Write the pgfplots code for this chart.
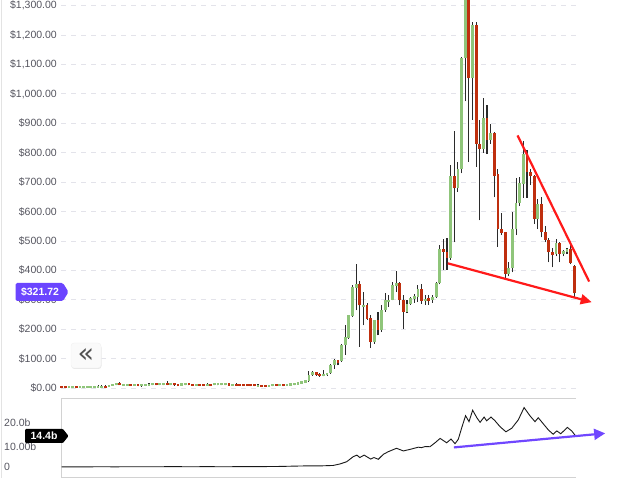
\documentclass[border=0pt]{standalone}
\usepackage{fontspec}
\setmainfont{Liberation Sans}
\newfontfamily\dejavu{DejaVu Sans}
\usepackage{pgfplots}
\usepackage{pgfplotstable}
\pgfplotsset{compat=1.18}
\usetikzlibrary{arrows.meta}
\definecolor{upc}{HTML}{8FC57A}
\definecolor{dnc}{HTML}{BF2F0E}
\definecolor{wick}{HTML}{2B2B2B}
\definecolor{gridc}{HTML}{E3E3EA}
\definecolor{labc}{HTML}{55555F}
\definecolor{tagp}{HTML}{6B45FF}
\definecolor{arrp}{HTML}{7047FF}
\definecolor{redl}{HTML}{FF1A1A}

\pgfplotstableread{
i o h l c
0 6.5 7 0 0.3
1 6.5 7 0 0.3
2 0.3 7 0 6.5
3 0.3 7 0 6.5
4 6.5 7 0 0.3
5 0.3 7 0 6.5
6 0.4 7.3 0 6.8
7 0.5 7.5 0 7
8 0.5 8 0 7.5
9 0.8 8.3 0.3 7.8
10 1 11 0.5 8
11 1 12 0.5 8
12 8.5 9 1 1.5
13 4.5 12 4 11.5
14 7.5 15 7 14.5
15 9.5 17 9 16.5
16 16.5 19 9 9.5
17 7.5 15 7 14.5
18 7.5 15 7 14.5
19 14.5 15 7 7.5
20 7.5 15 7 14.5
21 13.5 14 6 6.5
22 5.5 13 5 12.5
23 7 14.5 6.5 14
24 8 15.5 7.5 15
25 9.5 17 9 16.5
26 16.5 17 9 9.5
27 9.5 17 9 16.5
28 10 17.5 9.5 17
29 17 25 9.5 10
30 10 17.5 9.5 17
31 16 16.5 8.5 9
32 14 14.5 6.5 7
33 8.5 16 8 15.5
34 10 17.5 9.5 17
35 16.5 18 9 9.5
36 14 14.5 6.5 7
37 7.5 15 7 14.5
38 14 14.5 6.5 7
39 14 14.5 6.5 7
40 7.5 16 7 14.5
41 14 14.5 6.5 7
42 9.5 17 9 16.5
43 9.5 17 9 16.5
44 9.5 17 9 16.5
45 9.5 17 9 16.5
46 15.5 17 8 8.5
47 7.5 15 7 14.5
48 14.5 16 7 7.5
49 14 14.5 6.5 7
50 14 14.5 6.5 7
51 14 14.5 6.5 7
52 13.5 14 6 6.5
53 13.5 14 6 6.5
54 4.5 13 4 11.5
55 11 11.5 3.5 4
56 11 11.5 3.5 4
57 4.5 12 4 11.5
58 6.5 14 6 13.5
59 14 14.5 6.5 7
60 7 14.5 6.5 14
61 13.5 14 6 6.5
62 7.5 15 7 14.5
63 8.5 16 8 15.5
64 10 17.5 9.5 17
65 12 19.5 11.5 19
66 15 23.5 14.5 23
67 17 26.5 16.5 26
68 24 57 22 45
69 44 57 42 53
70 53 55 42 44
71 49 51 39 41
72 41 63 40 49
73 43 52 42 50
74 51 82 48 80
75 80 100 66 94
76 94 96 77 85
77 92 150 88 148
78 148 216 114 175
79 171 250 168 247
80 245 351 243 343
81 340 420 264 352
82 352 365 141 281
83 275 325 213 284
84 284 288 233 236
85 239 247 136 156
86 156 232 150 230
87 230 258 179 198
88 196 281 190 266
89 264 323 259 298
90 291 315 275 300
91 300 360 298 349
92 347 397 326 357
93 357 360 281 298
94 300 315 202 258
95 258 298 255 287
96 287 310 283 307
97 304 320 290 312
98 309 351 292 338
99 338 355 287 296
100 296 317 283 304
101 305 315 283 296
102 300 317 290 309
103 308 360 306 356
104 357 487 352 472
105 472 506 402 464
106 464 511 402 442
107 442 759 435 721
108 721 874 495 679
109 679 768 668 744
110 744 1125 730 1121
111 1121 1340 974 1330
112 1330 1340 770 1053
113 1053 1243 912 1234
114 1234 1243 753 830
115 830 912 570 813
116 813 985 800 917
117 917 962 795 844
118 844 898 830 866
119 866 870 648 722
120 727 746 480 540
121 540 595 520 527
122 529 532 370 387
123 387 430 380 407
124 407 597 393 540
125 540 715 520 630
126 630 719 620 698
127 693 840 647 797
128 797 810 647 735
129 735 745 690 721
130 721 725 557 574
131 574 642 540 625
132 625 648 512 529
133 529 550 495 504
134 504 510 427 461
135 463 475 410 453
136 455 505 448 492
137 492 497 427 455
138 455 470 448 466
139 463 476 455 472
140 472 491 420 425
141 415 418 308 322
}\candles

\pgfplotstableread{
x v
0 0.05
5 0.05
10 0.1
15 0.08
20 0.12
25 0.1
30 0.15
35 0.12
40 0.14
45 0.12
50 0.15
55 0.18
60 0.25
65.6 0.45
67.4 0.5
71.1 0.5
74.7 0.7
76.6 1.4
78.4 2.4
80.2 4.7
81.2 5.4
82.0 4.3
83.2 5.4
83.9 4.7
85.0 3.6
85.9 4.3
87.1 3.5
88.5 5.8
89.9 7.0
92.1 8.5
94.0 7.3
95.8 8.0
98.1 9.0
99.0 8.8
100.0 9.3
101.3 9.2
102.7 11.0
104.1 13.0
105.9 11.0
107.1 12.7
108.2 10.6
109.1 12.6
110.0 17.6
111.1 23.3
112.05 20.6
113.05 25.8
114.2 22.4
115.1 20.3
116.2 22.7
116.9 21.0
118.1 22.7
119.2 21.0
120.6 18.3
122.2 16.0
123.8 17.6
125.6 21.4
127.2 27.0
128.8 23.3
130.2 20.6
131.1 22.4
132.4 19.8
133.9 16.8
135.2 14.9
136.2 16.4
137.3 15.1
139.1 18.0
140.3 16.4
141.2 14.5
}\vol

\begin{document}
\begin{tikzpicture}
\path[use as bounding box] (0pt,0pt) rectangle (627pt,-478pt);
\draw[gray!22, line width=0.8pt] (1pt,0pt) -- (1pt,-478pt);

\begin{axis}[
  at={(61pt,-396pt)}, anchor=south west, scale only axis,
  width=514.7pt, height=396pt,
  xmin=-0.2, xmax=141.4, ymin=-27, ymax=1319,
  axis line style={draw=none}, xtick=\empty,
  ytick={0,100,...,1300},
  yticklabels={{\$0.00},{\$100.00},{\$200.00},{\$300.00},{\$400.00},{\$500.00},{\$600.00},{\$700.00},{\$800.00},{\$900.00},{\$1,000.00},{\$1,100.00},{\$1,200.00},{\$1,300.00}},
  major tick length=0pt,
  ymajorgrids, grid style={gridc, line width=0.9pt, dash pattern=on 5pt off 5pt},
  yticklabel style={font=\fontsize{10.5}{12}\selectfont, text=labc, anchor=east, inner sep=0pt, xshift=-4pt},
  clip=false,
]
\addplot[draw=none, forget plot, error bars/.cd, y dir=plus, y explicit, error mark=none,
  error bar style={draw=wick, line width=1.1pt}]
  table[x=i, y=l, y error plus expr=\thisrow{h}-\thisrow{l}] {\candles};
\addplot[draw=none, forget plot, x filter/.expression={\thisrow{c}>=\thisrow{o} ? x : nan},
  error bars/.cd, y dir=plus, y explicit, error mark=none,
  error bar style={draw=upc, line width=2.8pt}]
  table[x=i, y=o, y error plus expr=\thisrow{c}-\thisrow{o}] {\candles};
\addplot[draw=none, forget plot, x filter/.expression={\thisrow{c}<\thisrow{o} ? x : nan},
  error bars/.cd, y dir=plus, y explicit, error mark=none,
  error bar style={draw=dnc, line width=2.8pt}]
  table[x=i, y=c, y error plus expr=\thisrow{o}-\thisrow{c}] {\candles};
\draw[redl, line width=2.2pt] (axis cs:125.4,858.8) -- (axis cs:145.1,362);
\draw[redl, line width=2.2pt, -{Triangle[length=11pt,width=10pt]}] (axis cs:106.2,424) -- (axis cs:145.8,292);
\end{axis}

\begin{axis}[
  at={(61pt,-477pt)}, anchor=south west, scale only axis,
  width=514.7pt, height=79pt,
  xmin=-0.2, xmax=141.4, ymin=-4.55, ymax=31.36,
  axis line style={draw=none}, xtick=\empty,
  ytick={0,9.3,20}, yticklabels={0,10.00b,20.0b},
  major tick length=0pt,
  yticklabel style={font=\fontsize{10.5}{12}\selectfont, text=labc, anchor=west, inner sep=0pt, xshift=-57pt},
  clip=false,
]
\draw[gray!35, line width=0.8pt] (rel axis cs:1,1) -- (rel axis cs:0,1) -- (rel axis cs:0,0) -- (rel axis cs:1,0);
\addplot[black!90, line width=0.9pt] table[x=x, y=v] {\vol};
\draw[arrp, line width=2.2pt, -{Triangle[length=11pt,width=11pt]}] (axis cs:107.9,8.9) -- (axis cs:149.5,15.3);
\end{axis}

\begin{scope}[x=1pt, y=1pt]
\fill[tagp, rounded corners=1.5pt] (15.7,-283) -- (63,-283) -- (68.5,-292) -- (63,-301) -- (15.7,-301) -- cycle;
\node[text=white, font=\bfseries\fontsize{10.5}{12}\selectfont] at (40,-292) {\$321.72};
\fill[black, rounded corners=1pt] (25,-429) -- (63,-429) -- (68.5,-436) -- (63,-443) -- (25,-443) -- cycle;
\node[text=white, font=\bfseries\fontsize{10.5}{12}\selectfont] at (44,-436) {14.4b};
\fill[gray!18, rounded corners=3pt] (71.5,-344.5) rectangle (101.5,-369);
\filldraw[fill=gray!4, draw=gray!12, rounded corners=3pt] (71,-343) rectangle (101,-368);
\node[text=black!68, inner sep=0pt] at (86,-355.5) {\dejavu\fontsize{27}{27}\selectfont «};
\end{scope}
\end{tikzpicture}
\end{document}
